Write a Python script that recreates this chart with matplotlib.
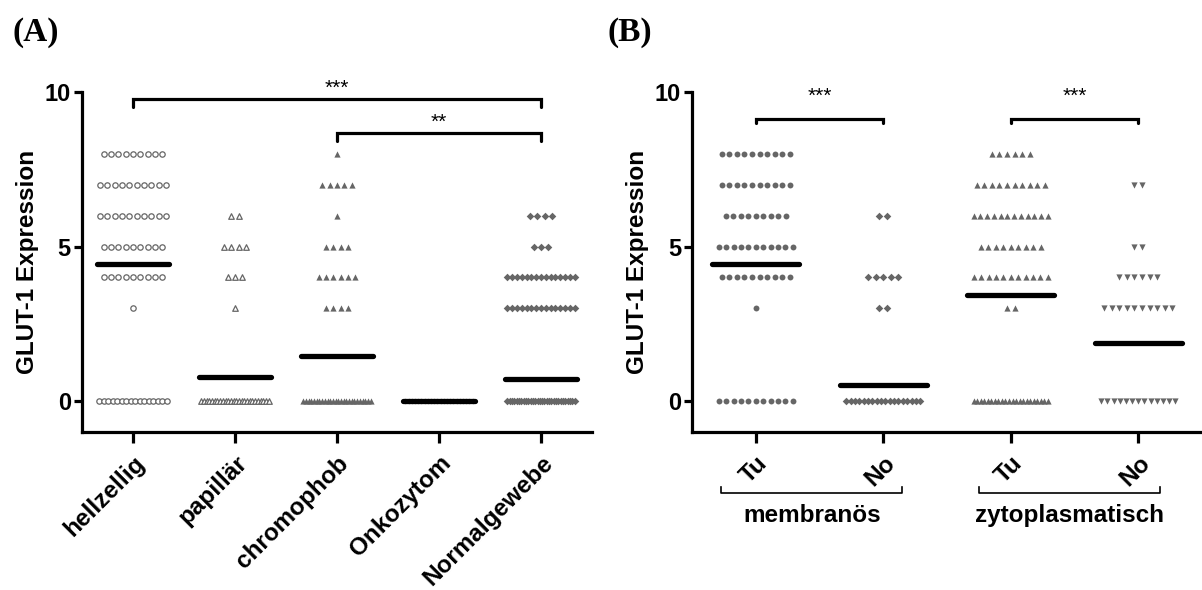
import numpy as np
import matplotlib.pyplot as plt

plt.rcParams['font.family'] = ['Liberation Sans', 'DejaVu Sans']
plt.rcParams['font.weight'] = 'bold'
plt.rcParams['axes.labelweight'] = 'bold'

grey = '#666666'

# Panel A: GLUT-1 score per tumour type (value level -> number of cases)
groups_a = ['hellzellig', 'papillär', 'chromophob', 'Onkozytom', 'Normalgewebe']
levels_hell = [8, 7, 6, 5, 4, 3, 0]
counts_hell = [9, 10, 10, 9, 9, 1, 16]
levels_pap = [6, 5, 4, 3, 0]
counts_pap = [2, 4, 3, 1, 26]
levels_chrom = [8, 7, 6, 5, 4, 3, 0]
counts_chrom = [1, 5, 1, 4, 6, 4, 26]
levels_onko = [0]
counts_onko = [22]
levels_norm = [6, 5, 4, 3, 0]
counts_norm = [4, 3, 15, 15, 30]
means_a = [4.45, 0.77, 1.45, 0.0, 0.71]

# Panel B: membranous / cytoplasmic staining, tumour vs normal
groups_b = ['Tu', 'No', 'Tu', 'No']
levels_mem_tu = [8, 7, 6, 5, 4, 3, 0]
counts_mem_tu = [10, 10, 9, 11, 10, 1, 11]
levels_mem_no = [6, 4, 3, 0]
counts_mem_no = [2, 5, 2, 18]
levels_zyt_tu = [8, 7, 6, 5, 4, 3, 0]
counts_zyt_tu = [6, 10, 12, 9, 11, 2, 22]
levels_zyt_no = [7, 5, 4, 3, 0]
counts_zyt_no = [2, 2, 6, 10, 13]
means_b = [4.42, 0.52, 3.42, 1.87]


def draw_column(ax, x, levels, counts, marker, filled, step, half, size=20):
    xs = []
    ys = []
    for lev, n in zip(levels, counts):
        st = step
        if n > 1 and (n - 1) * step > 2 * half:
            st = 2 * half / (n - 1)
        off = (np.arange(n) - (n - 1) / 2) * st
        xs.extend(x + off)
        ys.extend([lev] * n)
    if filled:
        ax.scatter(xs, ys, marker=marker, s=size, color=grey, linewidths=0, zorder=3)
    else:
        ax.scatter(xs, ys, marker=marker, s=size, facecolors='white',
                   edgecolors=grey, linewidths=0.9, zorder=3)


def style_axes(ax, labels):
    ax.set_ylim(-1, 10)
    ax.set_yticks([0, 5, 10])
    ax.spines['top'].set_visible(False)
    ax.spines['right'].set_visible(False)
    ax.spines['left'].set_linewidth(2.3)
    ax.spines['bottom'].set_linewidth(2.3)
    ax.tick_params(axis='y', width=2.3, length=6, labelsize=17, pad=2)
    ax.tick_params(axis='x', width=2.3, length=8, labelsize=17.5, pad=6)
    ax.set_xticks(range(len(labels)))
    ax.set_xticklabels(labels, rotation=45, ha='right', rotation_mode='anchor')
    ax.set_ylabel('GLUT-1 Expression', fontsize=17.5, fontweight='bold', labelpad=4)


def bracket(ax, x0, x1, y, drop, text, ty):
    ax.plot([x0, x0, x1, x1], [y - drop, y, y, y - drop], color='black', lw=2.3,
            clip_on=False, solid_capstyle='round', solid_joinstyle='miter')
    ax.text((x0 + x1) / 2, ty, text, ha='center', va='center', fontsize=15,
            fontweight='normal', clip_on=False)


fig = plt.figure(figsize=(12.02, 5.9), dpi=100)

# ----- panel A -----
ax = fig.add_axes([0.0682, 0.2678, 0.4243, 0.5763])
step_a, half_a = 0.072, 0.33
draw_column(ax, 0, levels_hell, counts_hell, 'o', False, step_a, half_a, 15)
draw_column(ax, 1, levels_pap, counts_pap, '^', False, step_a, half_a, 16)
draw_column(ax, 2, levels_chrom, counts_chrom, '^', True, step_a, half_a, 20)
draw_column(ax, 3, levels_onko, counts_onko, 'o', True, step_a, half_a, 15)
draw_column(ax, 4, levels_norm, counts_norm, 'D', True, step_a, half_a, 15)
for i, m in enumerate(means_a):
    ax.plot([i - 0.35, i + 0.35], [m, m], color='black', lw=3.8,
            solid_capstyle='round', zorder=4)
ax.set_xlim(-0.5, 4.5)
style_axes(ax, groups_a)
bracket(ax, 0, 4, 9.77, 0.27, '***', 10.12)
bracket(ax, 2, 4, 8.68, 0.27, '**', 9.02)
fig.text(0.01, 0.945, '(A)', fontsize=24, fontweight='bold',
         family=['Liberation Serif', 'DejaVu Serif'], va='center')

# ----- panel B -----
bx = fig.add_axes([0.5757, 0.2678, 0.4243, 0.5763])
step_b, half_b = 0.059, 0.29
draw_column(bx, 0, levels_mem_tu, counts_mem_tu, 'o', True, step_b, half_b, 18)
draw_column(bx, 1, levels_mem_no, counts_mem_no, 'D', True, step_b, half_b, 15)
draw_column(bx, 2, levels_zyt_tu, counts_zyt_tu, '^', True, step_b, half_b, 20)
draw_column(bx, 3, levels_zyt_no, counts_zyt_no, 'v', True, step_b, half_b, 20)
for i, m in enumerate(means_b):
    bx.plot([i - 0.34, i + 0.34], [m, m], color='black', lw=3.8,
            solid_capstyle='round', zorder=4)
bx.set_xlim(-0.5, 3.5)
style_axes(bx, groups_b)
bracket(bx, 0, 1, 9.12, 0.12, '***', 9.85)
bracket(bx, 2, 3, 9.12, 0.12, '***', 9.85)
fig.text(0.505, 0.945, '(B)', fontsize=24, fontweight='bold',
         family=['Liberation Serif', 'DejaVu Serif'], va='center')

# group brackets under the Tu/No labels
tr = bx.get_xaxis_transform()
for x0, x1, name in [(-0.27, 1.15, 'membranös'), (1.75, 3.17, 'zytoplasmatisch')]:
    bx.plot([x0, x0, x1, x1], [-0.162, -0.18, -0.18, -0.162], color='black',
            lw=1.2, transform=tr, clip_on=False)
    bx.text((x0 + x1) / 2, -0.245, name, transform=tr, ha='center', va='center',
            fontsize=17.5)

fig.savefig('out.png', dpi=100)
